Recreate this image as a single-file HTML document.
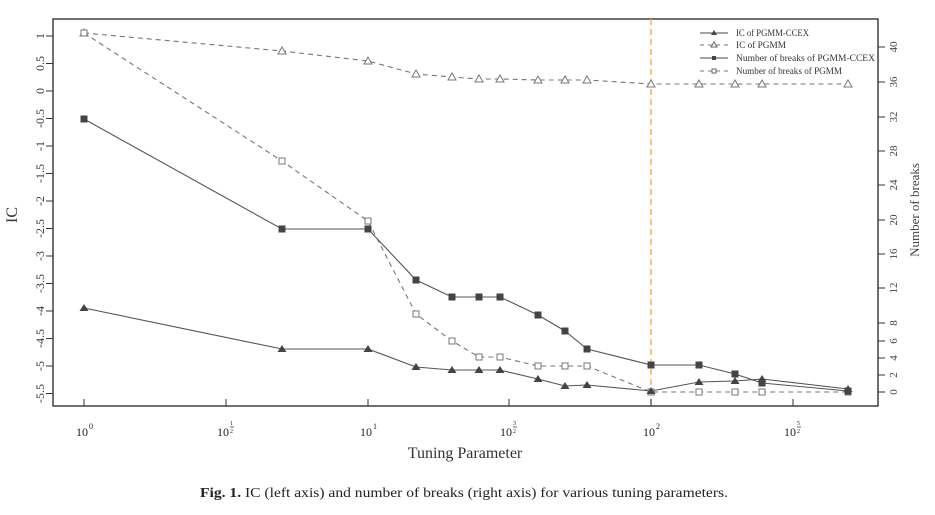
<!DOCTYPE html>
<html><head><meta charset="utf-8"><style>
body{margin:0;background:#fff;}
svg{display:block;font-family:"Liberation Serif",serif;}
</style></head><body>
<svg width="935" height="515" viewBox="0 0 935 515" xmlns="http://www.w3.org/2000/svg">
<rect width="935" height="515" fill="#fff"/>
<rect x="53" y="19" width="825" height="387" fill="none" stroke="#222" stroke-width="1.3"/>
<line x1="651" y1="19" x2="651" y2="406" stroke="#f5b454" stroke-width="1.5" stroke-dasharray="6,4"/>
<g stroke="#333" stroke-width="1">
<line x1="46" y1="36" x2="53" y2="36"/><line x1="46" y1="63.5" x2="53" y2="63.5"/><line x1="46" y1="91" x2="53" y2="91"/><line x1="46" y1="118.5" x2="53" y2="118.5"/><line x1="46" y1="146" x2="53" y2="146"/><line x1="46" y1="173.5" x2="53" y2="173.5"/><line x1="46" y1="201" x2="53" y2="201"/><line x1="46" y1="228.5" x2="53" y2="228.5"/><line x1="46" y1="256" x2="53" y2="256"/><line x1="46" y1="283.5" x2="53" y2="283.5"/><line x1="46" y1="311" x2="53" y2="311"/><line x1="46" y1="338.5" x2="53" y2="338.5"/><line x1="46" y1="366" x2="53" y2="366"/><line x1="46" y1="393.5" x2="53" y2="393.5"/>
<line x1="878" y1="392" x2="885" y2="392"/><line x1="878" y1="375" x2="885" y2="375"/><line x1="878" y1="358" x2="885" y2="358"/><line x1="878" y1="341" x2="885" y2="341"/><line x1="878" y1="323" x2="885" y2="323"/><line x1="878" y1="288" x2="885" y2="288"/><line x1="878" y1="254" x2="885" y2="254"/><line x1="878" y1="220" x2="885" y2="220"/><line x1="878" y1="185" x2="885" y2="185"/><line x1="878" y1="151" x2="885" y2="151"/><line x1="878" y1="117" x2="885" y2="117"/><line x1="878" y1="82" x2="885" y2="82"/><line x1="878" y1="47" x2="885" y2="47"/>
<line x1="84" y1="399" x2="84" y2="406"/><line x1="226" y1="399" x2="226" y2="406"/><line x1="368" y1="399" x2="368" y2="406"/><line x1="509" y1="399" x2="509" y2="406"/><line x1="651" y1="399" x2="651" y2="406"/><line x1="793" y1="399" x2="793" y2="406"/>
</g>
<g font-size="12" fill="#333" text-anchor="middle">
<text transform="translate(40,36) rotate(-90)" dy="4">1</text>
<text transform="translate(40,63.5) rotate(-90)" dy="4">0.5</text>
<text transform="translate(40,91) rotate(-90)" dy="4">0</text>
<text transform="translate(40,118.5) rotate(-90)" dy="4">-0.5</text>
<text transform="translate(40,146) rotate(-90)" dy="4">-1</text>
<text transform="translate(40,173.5) rotate(-90)" dy="4">-1.5</text>
<text transform="translate(40,201) rotate(-90)" dy="4">-2</text>
<text transform="translate(40,228.5) rotate(-90)" dy="4">-2.5</text>
<text transform="translate(40,256) rotate(-90)" dy="4">-3</text>
<text transform="translate(40,283.5) rotate(-90)" dy="4">-3.5</text>
<text transform="translate(40,311) rotate(-90)" dy="4">-4</text>
<text transform="translate(40,338.5) rotate(-90)" dy="4">-4.5</text>
<text transform="translate(40,366) rotate(-90)" dy="4">-5</text>
<text transform="translate(40,393.5) rotate(-90)" dy="4">-5.5</text>
</g>
<g font-size="11" fill="#444" text-anchor="middle">
<text transform="translate(893,392) rotate(-90)" dy="4">0</text>
<text transform="translate(893,375) rotate(-90)" dy="4">2</text>
<text transform="translate(893,358) rotate(-90)" dy="4">4</text>
<text transform="translate(893,341) rotate(-90)" dy="4">6</text>
<text transform="translate(893,323) rotate(-90)" dy="4">8</text>
<text transform="translate(893,288) rotate(-90)" dy="4">12</text>
<text transform="translate(893,254) rotate(-90)" dy="4">16</text>
<text transform="translate(893,220) rotate(-90)" dy="4">20</text>
<text transform="translate(893,185) rotate(-90)" dy="4">24</text>
<text transform="translate(893,151) rotate(-90)" dy="4">28</text>
<text transform="translate(893,117) rotate(-90)" dy="4">32</text>
<text transform="translate(893,82) rotate(-90)" dy="4">36</text>
<text transform="translate(893,47) rotate(-90)" dy="4">40</text>
</g>
<g font-size="12" fill="#222">
<text x="76" y="436">10</text><text x="89" y="429" font-size="8">0</text>
<text x="217" y="436">10</text><text x="230" y="425" font-size="6">1</text><line x1="230" y1="427" x2="234" y2="427" stroke="#222" stroke-width="0.7"/><text x="230" y="433" font-size="6">2</text>
<text x="360" y="436">10</text><text x="373" y="429" font-size="8">1</text>
<text x="500" y="436">10</text><text x="513" y="425" font-size="6">3</text><line x1="513" y1="427" x2="517" y2="427" stroke="#222" stroke-width="0.7"/><text x="513" y="433" font-size="6">2</text>
<text x="643" y="436">10</text><text x="656" y="429" font-size="8">2</text>
<text x="784" y="436">10</text><text x="797" y="425" font-size="6">5</text><line x1="797" y1="427" x2="801" y2="427" stroke="#222" stroke-width="0.7"/><text x="797" y="433" font-size="6">2</text>
</g>
<text x="465" y="458" font-size="16" fill="#333" text-anchor="middle">Tuning Parameter</text>
<text transform="translate(17,215) rotate(-90)" font-size="16" fill="#333" text-anchor="middle">IC</text>
<text transform="translate(919,210) rotate(-90)" font-size="13" fill="#444" text-anchor="middle">Number of breaks</text>
<text x="200" y="497" font-size="13.5" fill="#222" textLength="528" lengthAdjust="spacingAndGlyphs"><tspan font-weight="bold">Fig. 1.</tspan>  IC (left axis) and number of breaks (right axis) for various tuning parameters.</text>
<g fill="none" stroke-width="1.1">
<polyline stroke="#777" stroke-dasharray="5,4" points="84,33 282,51 368,61 416,74 452,77 479,79 500,79 538,80 565,80 587,80 651,84 699,84 735,84 762,84 848,84"/>
<polyline stroke="#777" stroke-dasharray="5,4" points="84,33 282,161 368,221 416,314 452,341 479,357 500,357 538,366 565,366 587,366 651,392 699,392 735,392 762,392 848,392"/>
<polyline stroke="#555" points="84,119 282,229 368,229 416,280 452,297 479,297 500,297 538,315 565,331 587,349 651,365 699,365 735,374 762,383 848,391"/>
<polyline stroke="#555" points="84,308 282,349 368,349 416,367 452,370 479,370 500,370 538,379 565,386 587,385 651,391 699,382 735,381 762,379 848,389"/>
</g>
<g fill="#fff" stroke="#777" stroke-width="1">
<path d="M84,29 l4,7 h-8z M282,47 l4,7 h-8z M368,57 l4,7 h-8z M416,70 l4,7 h-8z M452,73 l4,7 h-8z M479,75 l4,7 h-8z M500,75 l4,7 h-8z M538,76 l4,7 h-8z M565,76 l4,7 h-8z M587,76 l4,7 h-8z M651,80 l4,7 h-8z M699,80 l4,7 h-8z M735,80 l4,7 h-8z M762,80 l4,7 h-8z M848,80 l4,7 h-8z"/>
<path d="M81,30h6v6h-6z M279,158h6v6h-6z M365,218h6v6h-6z M413,311h6v6h-6z M449,338h6v6h-6z M476,354h6v6h-6z M497,354h6v6h-6z M535,363h6v6h-6z M562,363h6v6h-6z M584,363h6v6h-6z M648,389h6v6h-6z M696,389h6v6h-6z M732,389h6v6h-6z M759,389h6v6h-6z M845,389h6v6h-6z"/>
</g>
<g fill="#444">
<path d="M80.5,115.5h7v7h-7z M278.5,225.5h7v7h-7z M364.5,225.5h7v7h-7z M412.5,276.5h7v7h-7z M448.5,293.5h7v7h-7z M475.5,293.5h7v7h-7z M496.5,293.5h7v7h-7z M534.5,311.5h7v7h-7z M561.5,327.5h7v7h-7z M583.5,345.5h7v7h-7z M647.5,361.5h7v7h-7z M695.5,361.5h7v7h-7z M731.5,370.5h7v7h-7z M758.5,379.5h7v7h-7z M844.5,387.5h7v7h-7z"/>
<path d="M84,304 l4.5,7 h-9z M282,345 l4.5,7 h-9z M368,345 l4.5,7 h-9z M416,363 l4.5,7 h-9z M452,366 l4.5,7 h-9z M479,366 l4.5,7 h-9z M500,366 l4.5,7 h-9z M538,375 l4.5,7 h-9z M565,382 l4.5,7 h-9z M587,381 l4.5,7 h-9z M651,387 l4.5,7 h-9z M699,378 l4.5,7 h-9z M735,377 l4.5,7 h-9z M762,375 l4.5,7 h-9z M848,385 l4.5,7 h-9z"/>
</g>
<g font-size="9.5" fill="#333">
<line x1="700" y1="33" x2="728" y2="33" stroke="#444"/><path d="M714,30 l3,5 h-6z" fill="#444"/>
<text x="736" y="36" textLength="73" lengthAdjust="spacingAndGlyphs">IC of PGMM-CCEX</text>
<line x1="700" y1="45" x2="728" y2="45" stroke="#777" stroke-dasharray="4,4"/><path d="M714,42 l3,5 h-6z" fill="#fff" stroke="#666"/>
<text x="736" y="48" textLength="50" lengthAdjust="spacingAndGlyphs">IC of PGMM</text>
<line x1="700" y1="58" x2="728" y2="58" stroke="#444"/><rect x="712" y="56" width="4" height="4" fill="#444"/>
<text x="736" y="61" textLength="139" lengthAdjust="spacingAndGlyphs">Number of breaks of PGMM-CCEX</text>
<line x1="700" y1="71" x2="728" y2="71" stroke="#777" stroke-dasharray="4,4"/><rect x="712" y="69" width="4" height="4" fill="#fff" stroke="#666"/>
<text x="736" y="74" textLength="106" lengthAdjust="spacingAndGlyphs">Number of breaks of PGMM</text>
</g>
</svg>
</body></html>
